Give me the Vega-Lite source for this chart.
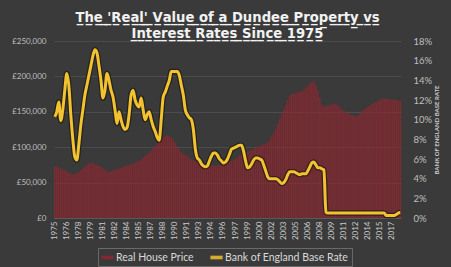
{
  "$schema": "https://vega.github.io/schema/vega-lite/v6.json",
  "width": 347,
  "height": 177,
  "autosize": "none",
  "padding": {"left": 54, "top": 41, "right": 50, "bottom": 49},
  "background": "#3a3a3a",
  "title": {
    "text": ["T\u0332h\u0332e\u0332 \u0332'\u0332R\u0332e\u0332a\u0332l\u0332'\u0332 \u0332V\u0332a\u0332l\u0332u\u0332e\u0332 \u0332o\u0332f\u0332 \u0332a\u0332 \u0332D\u0332u\u0332n\u0332d\u0332e\u0332e\u0332 \u0332P\u0332r\u0332o\u0332p\u0332e\u0332r\u0332t\u0332y\u0332 \u0332v\u0332s\u0332", "I\u0332n\u0332t\u0332e\u0332r\u0332e\u0332s\u0332t\u0332 \u0332R\u0332a\u0332t\u0332e\u0332s\u0332 \u0332S\u0332i\u0332n\u0332c\u0332e\u0332 \u03321\u03329\u03327\u03325\u0332"],
    "color": "#f2f2f2",
    "font": "DejaVu Sans",
    "fontSize": 13.2,
    "fontWeight": "bold",
    "anchor": "middle",
    "frame": "group",
    "offset": -5,
    "lineHeight": 16
  },
  "config": {
    "view": {"stroke": null},
    "axis": {"labelFont": "Lato", "titleFont": "Lato"},
    "legend": {"labelFont": "Lato"}
  },
  "data": {
    "values": [
      {"p": "1975Q1", "price": 73000, "rate": 10.3},
      {"p": "1975Q2", "price": 72000, "rate": 10.8},
      {"p": "1975Q3", "price": 71000, "rate": 11.8},
      {"p": "1975Q4", "price": 70000, "rate": 9.9},
      {"p": "1976Q1", "price": 68500, "rate": 11.0},
      {"p": "1976Q2", "price": 67000, "rate": 13.0},
      {"p": "1976Q3", "price": 65500, "rate": 14.7},
      {"p": "1976Q4", "price": 64000, "rate": 13.5},
      {"p": "1977Q1", "price": 62500, "rate": 10.5},
      {"p": "1977Q2", "price": 61000, "rate": 8.0},
      {"p": "1977Q3", "price": 62000, "rate": 6.2},
      {"p": "1977Q4", "price": 63500, "rate": 5.9},
      {"p": "1978Q1", "price": 65000, "rate": 7.5},
      {"p": "1978Q2", "price": 67500, "rate": 9.5},
      {"p": "1978Q3", "price": 70000, "rate": 11.0},
      {"p": "1978Q4", "price": 72500, "rate": 12.5},
      {"p": "1979Q1", "price": 75000, "rate": 13.5},
      {"p": "1979Q2", "price": 77000, "rate": 14.5},
      {"p": "1979Q3", "price": 78000, "rate": 15.5},
      {"p": "1979Q4", "price": 77000, "rate": 16.5},
      {"p": "1980Q1", "price": 76000, "rate": 17.1},
      {"p": "1980Q2", "price": 75000, "rate": 16.8},
      {"p": "1980Q3", "price": 74000, "rate": 15.5},
      {"p": "1980Q4", "price": 72000, "rate": 14.0},
      {"p": "1981Q1", "price": 70000, "rate": 12.2},
      {"p": "1981Q2", "price": 68000, "rate": 13.0},
      {"p": "1981Q3", "price": 66000, "rate": 14.7},
      {"p": "1981Q4", "price": 65000, "rate": 14.0},
      {"p": "1982Q1", "price": 66000, "rate": 13.0},
      {"p": "1982Q2", "price": 67000, "rate": 12.3},
      {"p": "1982Q3", "price": 68000, "rate": 11.0},
      {"p": "1982Q4", "price": 69000, "rate": 9.6},
      {"p": "1983Q1", "price": 70000, "rate": 10.8},
      {"p": "1983Q2", "price": 71000, "rate": 10.0},
      {"p": "1983Q3", "price": 72000, "rate": 9.3},
      {"p": "1983Q4", "price": 73000, "rate": 9.0},
      {"p": "1984Q1", "price": 74000, "rate": 9.2},
      {"p": "1984Q2", "price": 75000, "rate": 10.5},
      {"p": "1984Q3", "price": 76000, "rate": 12.5},
      {"p": "1984Q4", "price": 77000, "rate": 13.0},
      {"p": "1985Q1", "price": 78000, "rate": 12.0},
      {"p": "1985Q2", "price": 79500, "rate": 11.5},
      {"p": "1985Q3", "price": 81000, "rate": 11.3},
      {"p": "1985Q4", "price": 83000, "rate": 12.2},
      {"p": "1986Q1", "price": 85000, "rate": 11.0},
      {"p": "1986Q2", "price": 87500, "rate": 10.0},
      {"p": "1986Q3", "price": 90000, "rate": 10.5},
      {"p": "1986Q4", "price": 92000, "rate": 10.8},
      {"p": "1987Q1", "price": 95000, "rate": 10.0},
      {"p": "1987Q2", "price": 98000, "rate": 9.3},
      {"p": "1987Q3", "price": 101000, "rate": 8.8},
      {"p": "1987Q4", "price": 104000, "rate": 8.2},
      {"p": "1988Q1", "price": 107000, "rate": 7.9},
      {"p": "1988Q2", "price": 110000, "rate": 10.0},
      {"p": "1988Q3", "price": 113000, "rate": 12.3},
      {"p": "1988Q4", "price": 116000, "rate": 12.8},
      {"p": "1989Q1", "price": 117000, "rate": 13.4},
      {"p": "1989Q2", "price": 116000, "rate": 14.0},
      {"p": "1989Q3", "price": 113000, "rate": 14.9},
      {"p": "1989Q4", "price": 110000, "rate": 14.9},
      {"p": "1990Q1", "price": 106000, "rate": 14.9},
      {"p": "1990Q2", "price": 101000, "rate": 14.9},
      {"p": "1990Q3", "price": 97000, "rate": 14.5},
      {"p": "1990Q4", "price": 93000, "rate": 13.5},
      {"p": "1991Q1", "price": 91000, "rate": 12.5},
      {"p": "1991Q2", "price": 89000, "rate": 11.0},
      {"p": "1991Q3", "price": 87000, "rate": 10.5},
      {"p": "1991Q4", "price": 85000, "rate": 10.2},
      {"p": "1992Q1", "price": 83000, "rate": 10.0},
      {"p": "1992Q2", "price": 81500, "rate": 9.0},
      {"p": "1992Q3", "price": 80500, "rate": 7.0},
      {"p": "1992Q4", "price": 79500, "rate": 6.1},
      {"p": "1993Q1", "price": 79000, "rate": 5.9},
      {"p": "1993Q2", "price": 78000, "rate": 5.5},
      {"p": "1993Q3", "price": 77000, "rate": 5.3},
      {"p": "1993Q4", "price": 76000, "rate": 5.2},
      {"p": "1994Q1", "price": 75500, "rate": 5.3},
      {"p": "1994Q2", "price": 75000, "rate": 5.8},
      {"p": "1994Q3", "price": 74500, "rate": 6.3},
      {"p": "1994Q4", "price": 74000, "rate": 6.6},
      {"p": "1995Q1", "price": 74000, "rate": 6.6},
      {"p": "1995Q2", "price": 74500, "rate": 6.4},
      {"p": "1995Q3", "price": 75000, "rate": 6.0},
      {"p": "1995Q4", "price": 75500, "rate": 5.8},
      {"p": "1996Q1", "price": 76000, "rate": 5.6},
      {"p": "1996Q2", "price": 77000, "rate": 5.7},
      {"p": "1996Q3", "price": 78000, "rate": 6.0},
      {"p": "1996Q4", "price": 79000, "rate": 6.5},
      {"p": "1997Q1", "price": 80000, "rate": 7.0},
      {"p": "1997Q2", "price": 82000, "rate": 7.1},
      {"p": "1997Q3", "price": 84000, "rate": 7.2},
      {"p": "1997Q4", "price": 86000, "rate": 7.3},
      {"p": "1998Q1", "price": 88000, "rate": 7.4},
      {"p": "1998Q2", "price": 89500, "rate": 7.4},
      {"p": "1998Q3", "price": 91000, "rate": 6.8},
      {"p": "1998Q4", "price": 92500, "rate": 5.8},
      {"p": "1999Q1", "price": 93500, "rate": 5.1},
      {"p": "1999Q2", "price": 94500, "rate": 5.2},
      {"p": "1999Q3", "price": 96000, "rate": 5.5},
      {"p": "1999Q4", "price": 97500, "rate": 5.9},
      {"p": "2000Q1", "price": 99000, "rate": 6.1},
      {"p": "2000Q2", "price": 100500, "rate": 6.1},
      {"p": "2000Q3", "price": 101500, "rate": 6.0},
      {"p": "2000Q4", "price": 102500, "rate": 5.9},
      {"p": "2001Q1", "price": 104000, "rate": 5.4},
      {"p": "2001Q2", "price": 105000, "rate": 4.8},
      {"p": "2001Q3", "price": 107000, "rate": 4.2},
      {"p": "2001Q4", "price": 110000, "rate": 4.0},
      {"p": "2002Q1", "price": 115000, "rate": 4.0},
      {"p": "2002Q2", "price": 120000, "rate": 4.0},
      {"p": "2002Q3", "price": 126000, "rate": 4.0},
      {"p": "2002Q4", "price": 133000, "rate": 3.9},
      {"p": "2003Q1", "price": 140000, "rate": 3.7},
      {"p": "2003Q2", "price": 147000, "rate": 3.5},
      {"p": "2003Q3", "price": 153000, "rate": 3.6},
      {"p": "2003Q4", "price": 160000, "rate": 3.9},
      {"p": "2004Q1", "price": 167000, "rate": 4.4},
      {"p": "2004Q2", "price": 173000, "rate": 4.7},
      {"p": "2004Q3", "price": 175000, "rate": 4.7},
      {"p": "2004Q4", "price": 176000, "rate": 4.7},
      {"p": "2005Q1", "price": 177000, "rate": 4.6},
      {"p": "2005Q2", "price": 177500, "rate": 4.5},
      {"p": "2005Q3", "price": 178000, "rate": 4.4},
      {"p": "2005Q4", "price": 179000, "rate": 4.5},
      {"p": "2006Q1", "price": 181000, "rate": 4.5},
      {"p": "2006Q2", "price": 184000, "rate": 4.5},
      {"p": "2006Q3", "price": 187000, "rate": 4.8},
      {"p": "2006Q4", "price": 190000, "rate": 5.2},
      {"p": "2007Q1", "price": 192000, "rate": 5.6},
      {"p": "2007Q2", "price": 193000, "rate": 5.7},
      {"p": "2007Q3", "price": 188000, "rate": 5.4},
      {"p": "2007Q4", "price": 180000, "rate": 5.1},
      {"p": "2008Q1", "price": 170000, "rate": 5.1},
      {"p": "2008Q2", "price": 160000, "rate": 5.0},
      {"p": "2008Q3", "price": 157000, "rate": 4.9},
      {"p": "2008Q4", "price": 158000, "rate": 0.6},
      {"p": "2009Q1", "price": 159000, "rate": 0.5},
      {"p": "2009Q2", "price": 159500, "rate": 0.5},
      {"p": "2009Q3", "price": 160000, "rate": 0.5},
      {"p": "2009Q4", "price": 161000, "rate": 0.5},
      {"p": "2010Q1", "price": 162000, "rate": 0.5},
      {"p": "2010Q2", "price": 159000, "rate": 0.5},
      {"p": "2010Q3", "price": 156000, "rate": 0.5},
      {"p": "2010Q4", "price": 153000, "rate": 0.5},
      {"p": "2011Q1", "price": 151000, "rate": 0.5},
      {"p": "2011Q2", "price": 150000, "rate": 0.5},
      {"p": "2011Q3", "price": 148000, "rate": 0.5},
      {"p": "2011Q4", "price": 146500, "rate": 0.5},
      {"p": "2012Q1", "price": 145000, "rate": 0.5},
      {"p": "2012Q2", "price": 144000, "rate": 0.5},
      {"p": "2012Q3", "price": 143000, "rate": 0.5},
      {"p": "2012Q4", "price": 145000, "rate": 0.5},
      {"p": "2013Q1", "price": 148000, "rate": 0.5},
      {"p": "2013Q2", "price": 151000, "rate": 0.5},
      {"p": "2013Q3", "price": 153000, "rate": 0.5},
      {"p": "2013Q4", "price": 155000, "rate": 0.5},
      {"p": "2014Q1", "price": 157000, "rate": 0.5},
      {"p": "2014Q2", "price": 159000, "rate": 0.5},
      {"p": "2014Q3", "price": 161000, "rate": 0.5},
      {"p": "2014Q4", "price": 162500, "rate": 0.5},
      {"p": "2015Q1", "price": 164000, "rate": 0.5},
      {"p": "2015Q2", "price": 165500, "rate": 0.5},
      {"p": "2015Q3", "price": 167000, "rate": 0.5},
      {"p": "2015Q4", "price": 168000, "rate": 0.5},
      {"p": "2016Q1", "price": 169000, "rate": 0.5},
      {"p": "2016Q2", "price": 168500, "rate": 0.25},
      {"p": "2016Q3", "price": 168000, "rate": 0.25},
      {"p": "2016Q4", "price": 167500, "rate": 0.25},
      {"p": "2017Q1", "price": 167000, "rate": 0.25},
      {"p": "2017Q2", "price": 167000, "rate": 0.25},
      {"p": "2017Q3", "price": 166500, "rate": 0.35},
      {"p": "2017Q4", "price": 166000, "rate": 0.5},
      {"p": "2018Q1", "price": 165500, "rate": 0.55}
    ]
  },
  "encoding": {
    "x": {
      "field": "p",
      "type": "ordinal",
      "scale": {"paddingInner": 0.25, "paddingOuter": 0},
      "axis": {
        "title": null,
        "values": ["1975Q1","1976Q3","1978Q1","1979Q3","1981Q1","1982Q3","1984Q1","1985Q3","1987Q1","1988Q3","1990Q1","1991Q3","1993Q1","1994Q3","1996Q1","1997Q3","1999Q1","2000Q3","2002Q1","2003Q3","2005Q1","2006Q3","2008Q1","2009Q3","2011Q1","2012Q3","2014Q1","2015Q3","2017Q1"],
        "labelExpr": "substring(datum.value, 0, 4)",
        "labelAngle": 270,
        "labelFontSize": 8,
        "labelColor": "#cccccc",
        "labelPadding": 3,
        "ticks": false,
        "domain": true,
        "domainColor": "#5a5a5a",
        "grid": false
      }
    }
  },
  "layer": [
    {
      "mark": {"type": "bar", "opacity": 0.85},
      "encoding": {
        "y": {
          "field": "price",
          "type": "quantitative",
          "scale": {"domain": [0, 250000], "nice": false},
          "axis": {
            "title": null,
            "orient": "left",
            "values": [0, 50000, 100000, 150000, 200000, 250000],
            "labelExpr": "datum.value == 0 ? '£0' : '£' + format(datum.value, ',')",
            "labelFontSize": 8,
            "labelColor": "#bfbfbf",
            "labelPadding": 8,
            "ticks": false,
            "domain": false,
            "grid": true,
            "gridColor": "#505050",
            "gridWidth": 0.8
          }
        },
        "color": {
          "datum": "Real House Price",
          "type": "nominal",
          "scale": {
            "domain": ["Real House Price", "Bank of England Base Rate"],
            "range": ["#8f2730", "#f2c230"]
          },
          "legend": {
            "title": null,
            "orient": "none",
            "legendX": 44,
            "legendY": 207,
            "direction": "horizontal",
            "symbolType": "M-1,-0.3H1V0.3H-1Z",
            "symbolSize": 150,
            "symbolStrokeWidth": 0,
            "labelColor": "#d9d9d9",
            "labelFontSize": 10.5,
            "labelOffset": 2,
            "columnPadding": 16,
            "padding": 3,
            "strokeColor": "#6a6a6a"
          }
        }
      }
    },
    {
      "encoding": {
        "y": {
          "field": "rate",
          "type": "quantitative",
          "scale": {"domain": [0, 18], "nice": false},
          "axis": {
            "title": "BANK OF ENGLAND BASE RATE",
            "orient": "right",
            "values": [0, 2, 4, 6, 8, 10, 12, 14, 16, 18],
            "labelExpr": "datum.value + '%'",
            "labelFontSize": 9.5,
            "labelColor": "#bfbfbf",
            "labelPadding": 12,
            "ticks": false,
            "domain": false,
            "grid": false,
            "titleFontSize": 6,
            "titleColor": "#cccccc",
            "titleFontWeight": "bold",
            "titleAngle": 270,
            "titlePadding": 8
          }
        }
      },
      "layer": [
        {
          "mark": {"type": "line", "color": "#1e1a10", "strokeWidth": 5.5, "opacity": 0.7, "interpolate": "monotone"}
        },
        {
          "mark": {"type": "line", "strokeWidth": 3, "interpolate": "monotone"},
          "encoding": {
            "color": {"datum": "Bank of England Base Rate", "type": "nominal"}
          }
        }
      ]
    }
  ],
  "resolve": {"scale": {"y": "independent"}}
}
